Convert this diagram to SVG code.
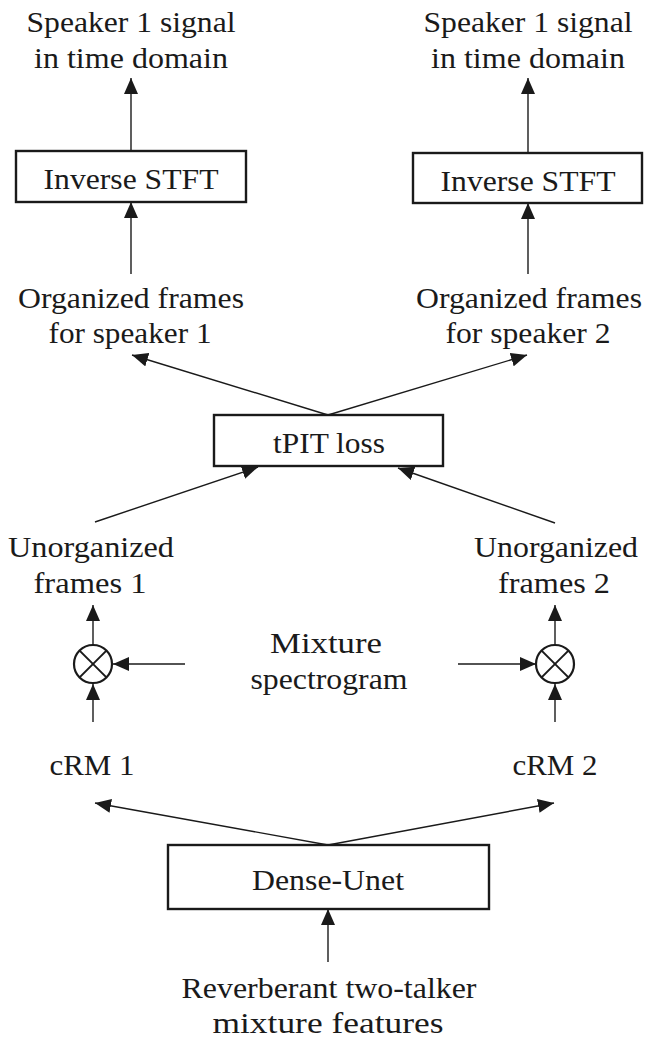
<svg xmlns="http://www.w3.org/2000/svg" width="655" height="1040" viewBox="0 0 655 1040" font-family="Liberation Serif, Times New Roman, serif">
<style>
text{font-size:29px;fill:#1a1a1a;text-anchor:middle}
.box{fill:#fff;stroke:#1a1a1a;stroke-width:2.4}
.c{fill:none;stroke:#1a1a1a;stroke-width:1.4;marker-end:url(#ah)}
.mul{fill:#fff;stroke:#1a1a1a;stroke-width:2.2}
.x{stroke:#1a1a1a;stroke-width:2}
</style>
<defs>
<marker id="ah" viewBox="0 0 16 14" refX="16" refY="7" markerWidth="16" markerHeight="14" markerUnits="userSpaceOnUse" orient="auto">
<path d="M0,0 L16,7 L0,14 z" fill="#1a1a1a"/>
</marker>
</defs>
<g id="connectors">
<line class="c" x1="131" y1="151" x2="131" y2="78"/>
<line class="c" x1="528" y1="153" x2="528" y2="78"/>
<line class="c" x1="131" y1="274" x2="131" y2="202"/>
<line class="c" x1="528" y1="274" x2="528" y2="203"/>
<line class="c" x1="328" y1="415" x2="132" y2="355"/>
<line class="c" x1="328" y1="415" x2="527" y2="355"/>
<line class="c" x1="95" y1="522" x2="258" y2="467"/>
<line class="c" x1="555" y1="523" x2="398" y2="468"/>
<line class="c" x1="93" y1="645" x2="93" y2="605"/>
<line class="c" x1="555" y1="645" x2="555" y2="605"/>
<line class="c" x1="185" y1="664" x2="113" y2="664"/>
<line class="c" x1="458" y1="664" x2="536" y2="664"/>
<line class="c" x1="93" y1="722" x2="93" y2="684"/>
<line class="c" x1="555" y1="722" x2="555" y2="684"/>
<line class="c" x1="328" y1="845" x2="95" y2="803"/>
<line class="c" x1="328" y1="845" x2="554" y2="803"/>
<line class="c" x1="328" y1="962" x2="328" y2="909"/>
</g>
<g id="out1">
<text x="131" y="32" textLength="209" lengthAdjust="spacingAndGlyphs">Speaker 1 signal</text>
<text x="131" y="68" textLength="194" lengthAdjust="spacingAndGlyphs">in time domain</text>
</g>
<g id="out2">
<text x="528" y="32" textLength="209" lengthAdjust="spacingAndGlyphs">Speaker 1 signal</text>
<text x="528" y="68" textLength="194" lengthAdjust="spacingAndGlyphs">in time domain</text>
</g>
<g id="istft1">
<rect class="box" x="16" y="151" width="230" height="51"/>
<text x="131" y="189" textLength="175" lengthAdjust="spacingAndGlyphs">Inverse STFT</text>
</g>
<g id="istft2">
<rect class="box" x="413" y="153" width="229" height="50"/>
<text x="528" y="191" textLength="175" lengthAdjust="spacingAndGlyphs">Inverse STFT</text>
</g>
<g id="org1">
<text x="131" y="308" textLength="226" lengthAdjust="spacingAndGlyphs">Organized frames</text>
<text x="130" y="343" textLength="163" lengthAdjust="spacingAndGlyphs">for speaker 1</text>
</g>
<g id="org2">
<text x="529" y="308" textLength="226" lengthAdjust="spacingAndGlyphs">Organized frames</text>
<text x="528" y="343" textLength="165" lengthAdjust="spacingAndGlyphs">for speaker 2</text>
</g>
<g id="tpit">
<rect class="box" x="214" y="415" width="229" height="51"/>
<text x="329" y="453" textLength="112" lengthAdjust="spacingAndGlyphs">tPIT loss</text>
</g>
<g id="unorg1">
<text x="91" y="557" textLength="166" lengthAdjust="spacingAndGlyphs">Unorganized</text>
<text x="90" y="593" textLength="113" lengthAdjust="spacingAndGlyphs">frames 1</text>
</g>
<g id="unorg2">
<text x="556" y="557" textLength="164" lengthAdjust="spacingAndGlyphs">Unorganized</text>
<text x="554" y="593" textLength="112" lengthAdjust="spacingAndGlyphs">frames 2</text>
</g>
<g id="mult1">
<circle class="mul" cx="93" cy="664" r="19"/>
<line class="x" x1="79.6" y1="650.6" x2="106.4" y2="677.4"/>
<line class="x" x1="106.4" y1="650.6" x2="79.6" y2="677.4"/>
</g>
<g id="mult2">
<circle class="mul" cx="555" cy="664" r="19"/>
<line class="x" x1="541.6" y1="650.6" x2="568.4" y2="677.4"/>
<line class="x" x1="568.4" y1="650.6" x2="541.6" y2="677.4"/>
</g>
<g id="mixture">
<text x="326" y="653" textLength="112" lengthAdjust="spacingAndGlyphs">Mixture</text>
<text x="329" y="689" textLength="157" lengthAdjust="spacingAndGlyphs">spectrogram</text>
</g>
<g id="crm1">
<text x="92" y="775" textLength="85" lengthAdjust="spacingAndGlyphs">cRM 1</text>
</g>
<g id="crm2">
<text x="555" y="775" textLength="85" lengthAdjust="spacingAndGlyphs">cRM 2</text>
</g>
<g id="denseunet">
<rect class="box" x="168" y="845" width="321" height="64"/>
<text x="328" y="890" textLength="152" lengthAdjust="spacingAndGlyphs">Dense-Unet</text>
</g>
<g id="input">
<text x="329" y="998" textLength="295" lengthAdjust="spacingAndGlyphs">Reverberant two-talker</text>
<text x="328" y="1033" textLength="231" lengthAdjust="spacingAndGlyphs">mixture features</text>
</g>
</svg>
